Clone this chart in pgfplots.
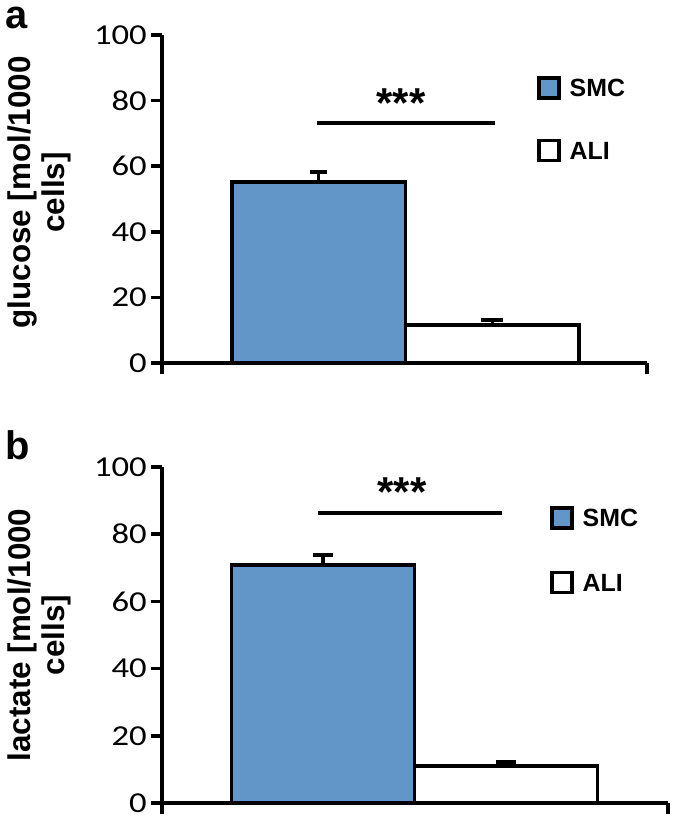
\documentclass[border=0pt]{standalone}
\usepackage{fontspec}
\setmainfont{Liberation Sans}
\newfontfamily\carlito{Carlito}
\usepackage{graphicx}
\usepackage{pgfplots}
\pgfplotsset{compat=1.18}
\definecolor{smcblue}{RGB}{98,150,201}

\pgfplotsset{
 panel/.style={
  scale only axis, clip=false,
  axis x line*=bottom, axis y line*=left,
  ymin=0, ymax=100, ytick={0,20,...,100},
  enlargelimits=false,
  xticklabels={},
  tick align=outside,
  major tick length=11bp,
  axis line style={line width=3.5bp, black, -},
  every tick/.style={line width=3.5bp, black},
  /pgf/number format/assume math mode=true,
  yticklabel={\scalebox{1.2}[1]{\carlito\fontsize{29}{29}\selectfont\pgfmathprintnumber{\tick}}},
  yticklabel style={inner sep=0pt, xshift=-4bp},
  ylabel style={font=\bfseries\fontsize{31.5}{34}\selectfont, align=center, anchor=center},
  legend style={draw=none, fill=none, font=\bfseries\fontsize{25}{25}\selectfont, inner sep=0pt,
    nodes={inner sep=0pt},
    /tikz/every odd column/.append style={column sep=9bp}},
  legend cell align=left,
 },
 legimg/.style={legend image code/.code={\draw[##1, line width=3.5bp] (0bp,-9bp) rectangle (20bp,11bp);}},
 errs/.style={/pgfplots/error bars/y dir=plus, /pgfplots/error bars/y explicit,
   /pgfplots/error bars/error bar style={line width=3.5bp, black},
   /pgfplots/error bars/error mark options={rotate=90, line width=3.5bp, black, mark size=#1}},
 smc/.style={ybar, bar shift=0pt, fill=smcblue, draw=black, line width=3.5bp, legimg, errs=#1},
 ali/.style={ybar, bar shift=0pt, fill=white, draw=black, line width=3.5bp, legimg, errs=#1},
}

\begin{document}
\begin{tikzpicture}
\useasboundingbox (0,0) rectangle (675bp,819bp);

% panel a
\begin{axis}[panel, at={(162bp,456bp)}, anchor=south west,
  width=485bp, height=328bp, xmin=0, xmax=485, xtick={0,485},
  ylabel={glucose [mol/1000\\cells]},
  ylabel style={at={(axis description cs:-0.2536,0.52)}},
  legend style={at={(axis cs:375,87.5)}, anchor=north west, row sep=39bp}]
\addplot[smc=8.5bp, bar width=173.5] coordinates {(156.5,55.2) +- (0,3.0)};
\addlegendentry{SMC}
\addplot[ali=11bp, bar width=173.5] coordinates {(330.25,11.6) +- (0,1.5)};
\addlegendentry{ALI}
\draw[line width=3.5bp] (axis cs:155,73.2) -- (axis cs:333,73.2);
\node[font=\bfseries\fontsize{42}{42}\selectfont, inner sep=0pt] at (axis cs:239,79.3) {***};
\end{axis}

% panel b
\begin{axis}[panel, at={(162bp,16bp)}, anchor=south west,
  width=506bp, height=336bp, xmin=0, xmax=506, xtick={0,506},
  ylabel={lactate [mol/1000\\cells]},
  ylabel style={at={(axis description cs:-0.243,0.5)}},
  legend style={at={(axis cs:388,88.4)}, anchor=north west, row sep=41bp}]
\addplot[smc=10bp, bar width=183] coordinates {(161,70.8) +- (0,3.0)};
\addlegendentry{SMC}
\addplot[ali=10bp, bar width=183] coordinates {(344,11.0) +- (0,1.2)};
\addlegendentry{ALI}
\draw[line width=3.5bp] (axis cs:156,86.3) -- (axis cs:340,86.3);
\node[font=\bfseries\fontsize{42}{42}\selectfont, inner sep=0pt] at (axis cs:240,92.6) {***};
\end{axis}

\node[anchor=base west, font=\bfseries\fontsize{40}{40}\selectfont, inner sep=0pt] at (5bp,790bp) {a};
\node[anchor=base west, font=\bfseries\fontsize{40}{40}\selectfont, inner sep=0pt] at (5bp,359bp) {b};
\end{tikzpicture}
\end{document}
